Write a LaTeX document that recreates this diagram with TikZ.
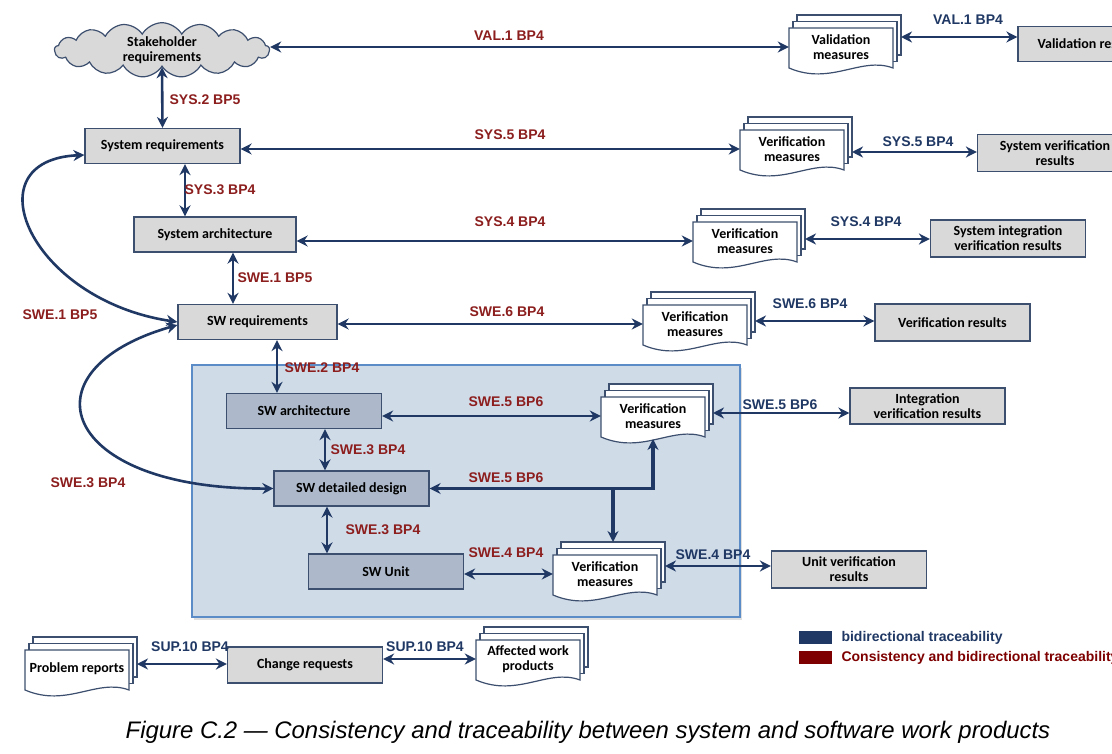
\documentclass[tikz,border=0pt]{standalone}
\usepackage{fontspec}
\setmainfont{Carlito}
\newfontfamily\lblfont{Liberation Sans}
\usetikzlibrary{arrows.meta,shapes.symbols,shadows}

\definecolor{navy}{HTML}{1F3864}
\definecolor{boxline}{HTML}{3D4F6E}
\definecolor{boxgray}{HTML}{D9D9D9}
\definecolor{swfill}{HTML}{ADB9CA}
\definecolor{panelfill}{HTML}{D0DBE8}
\definecolor{panelline}{HTML}{5B8CC8}
\definecolor{redlbl}{HTML}{8C1E1E}
\definecolor{legred}{HTML}{7F0000}

\tikzset{
  box/.style={draw=boxline, line width=1.2pt, fill=boxgray, minimum width=155pt,
    minimum height=35pt, align=center, inner sep=2pt,
    font=\fontsize{14}{15}\selectfont\bfseries},
  swbox/.style={box, fill=swfill},
  cloudnode/.style={cloud, cloud puffs=17, cloud puff arc=120, aspect=4.2,
    draw=boxline, line width=1.2pt, fill=boxgray, minimum width=215pt,
    minimum height=52pt, inner sep=0pt, align=center,
    font=\fontsize{14}{15}\selectfont\bfseries},
  docline/.style={draw=boxline, line width=1.2pt, fill=white},
  doctext/.style={minimum width=104pt, minimum height=38pt, inner sep=0pt,
    align=center, font=\fontsize{14}{15}\selectfont\bfseries},
  conn/.style={draw=navy, line width=2.6pt,
    {Stealth[length=11pt,width=11pt]}-{Stealth[length=11pt,width=11pt]}},
  redtxt/.style={text=redlbl, font=\lblfont\fontsize{14}{15}\selectfont\bfseries},
  bluetxt/.style={text=navy, font=\lblfont\fontsize{14}{15}\selectfont\bfseries},
}

% stack of documents: name, x, y, height of right connector, text
\newcommand{\docstack}[5]{%
  \foreach \k in {2,1} {
    \filldraw[docline] ({#2-52+4*\k},{#3-23-6.5*\k}) rectangle ({#2+52+4*\k},{#3+17-6.5*\k});
  }
  \filldraw[docline] ({#2-52},{#3-23}) -- ({#2+52},{#3-23}) -- ({#2+52},{#3+17})
    .. controls ({#2+20},{#3+5}) and ({#2-10},{#3+35}) .. ({#2-52},{#3+17}) -- cycle;
  \node[doctext] (#1) at ({#2},{#3-4}) {#5};
  \coordinate (#1r) at ({#2+60},{#3+#4});
  \coordinate (#1t) at ({#2+8},{#3-36});
  \coordinate (#1b) at ({#2},{#3+19});
}

\begin{document}
\begin{tikzpicture}[x=1pt,y=-1pt]
\useasboundingbox[fill=white] (0,0) rectangle (1112,754);

% software panel
\filldraw[fill=panelfill, draw=panelline, line width=1.2pt,
  drop shadow={shadow xshift=2pt, shadow yshift=-3pt, opacity=0.25}]
  (192,365) rectangle (740,617);

% work products
\node[cloudnode] (stake) at (162,50) {Stakeholder\\requirements};
\node[box] (sysreq) at (162.5,146) {System requirements};
\node[box, minimum width=162pt] (sysarch) at (215,234.5) {System architecture};
\node[box, minimum width=159pt] (swreq) at (257.5,322) {SW requirements};
\node[swbox] (swarch) at (304,411) {SW architecture};
\node[swbox] (dd) at (351.5,488.5) {SW detailed design};
\node[swbox] (unit) at (386,571.5) {SW Unit};

\docstack{valm}{841}{51}{-14}{Validation\\measures}
\docstack{vm1}{792}{153}{-1}{Verification\\measures}
\docstack{vm2}{745}{245}{-6}{Verification\\measures}
\docstack{vm3}{695}{328}{-7}{Verification\\measures}
\docstack{vm4}{653}{420}{-7}{Verification\\measures}
\docstack{vm5}{605}{578}{-12}{Verification\\measures}
\docstack{prob}{77}{673}{-9}{Problem reports}
\docstack{aff}{528}{663}{-6}{Affected work\\products}

\node[box, minimum width=140pt] (valres) at (1088,44) {Validation results};
\node[box, minimum height=37pt] (svr) at (1055,153) {System verification\\results};
\node[box, minimum height=37pt] (sivr) at (1008,238.5) {System integration\\verification results};
\node[box, minimum height=37pt] (vr) at (952.5,322.5) {Verification results};
\node[box, minimum height=36pt] (ivr) at (927.5,406) {Integration\\verification results};
\node[box, minimum height=37pt] (uvr) at (849,569.5) {Unit verification\\results};
\node[box, minimum height=36pt] (chg) at (305,665) {Change requests};

% vertical traces
\draw[conn] (stake.south) -- (sysreq.north);
\draw[conn] (sysreq.south -| 185,0) -- (sysarch.north -| 185,0);
\draw[conn] (sysarch.south -| 233,0) -- (swreq.north -| 233,0);
\draw[conn] (swreq.south -| 277,0) -- (swarch.north -| 277,0);
\draw[conn] (swarch.south -| 325,0) -- (dd.north -| 325,0);
\draw[conn] (dd.south -| 327,0) -- (unit.north -| 327,0);

% towards measures
\draw[conn] (stake.east |- valm.west) -- (valm.west);
\draw[conn] (sysreq.east |- vm1.west) -- (vm1.west);
\draw[conn] (sysarch.east |- vm2.west) -- (vm2.west);
\draw[conn] (swreq.east |- vm3.west) -- (vm3.west);
\draw[conn] (swarch.east |- vm4.west) -- (vm4.west);
\draw[conn, line width=3.2pt] (dd.east) -- (vm4b |- dd.east) -- (vm4b);
\draw[conn, line width=3.2pt, -{Stealth[length=11pt,width=11pt]}] (vm5t |- dd.east) -- (vm5t);
\draw[conn] (unit.east |- vm5.west) -- (vm5.west);

% towards results
\draw[conn] (valmr) -- (valmr -| valres.west);
\draw[conn] (vm1r) -- (vm1r -| svr.west);
\draw[conn] (vm2r) -- (vm2r -| sivr.west);
\draw[conn] (vm3r) -- (vm3r -| vr.west);
\draw[conn] (vm4r) -- (vm4r -| ivr.west);
\draw[conn] (vm5r) -- (vm5r -| uvr.west);
\draw[conn] (probr) -- (probr -| chg.west);
\draw[conn] (chg.east |- aff.west) -- (aff.west);

% left curves
\draw[conn] ([yshift=-9pt]sysreq.west) .. controls (-30,160) and (30,300) .. (swreq.west);
\draw[conn] ([yshift=-3pt]swreq.west) .. controls (20,370) and (60,490) .. (dd.west);

% labels
\node[redtxt] (lval) at (509,36) {VAL.1 BP4};
\node[redtxt] (lsys2) at (205,100) {SYS.2 BP5};
\node[redtxt] (lsys5) at (510,135) {SYS.5 BP4};
\node[redtxt] (lsys3) at (220,190) {SYS.3 BP4};
\node[redtxt] (lsys4) at (510,222) {SYS.4 BP4};
\node[redtxt] (lswe1) at (275,278) {SWE.1 BP5};
\node[redtxt] (lswe1c) at (60,315) {SWE.1 BP5};
\node[redtxt] (lswe6) at (507,312) {SWE.6 BP4};
\node[redtxt] (lswe2) at (322,368) {SWE.2 BP4};
\node[redtxt] (lswe5a) at (506,402) {SWE.5 BP6};
\node[redtxt] (lswe3a) at (368,450) {SWE.3 BP4};
\node[redtxt] (lswe5b) at (506,478) {SWE.5 BP6};
\node[redtxt] (lswe3b) at (383,530) {SWE.3 BP4};
\node[redtxt] (lswe4) at (506,553) {SWE.4 BP4};
\node[redtxt] (lswe3c) at (88,483) {SWE.3 BP4};

\node[bluetxt] (bval) at (968,20) {VAL.1 BP4};
\node[bluetxt] (bsys5) at (918,142) {SYS.5 BP4};
\node[bluetxt] (bsys4) at (866,222) {SYS.4 BP4};
\node[bluetxt] (bswe6) at (810,304) {SWE.6 BP4};
\node[bluetxt] (bswe5) at (780,405) {SWE.5 BP6};
\node[bluetxt] (bswe4) at (713,555) {SWE.4 BP4};
\node[bluetxt] (bsup1) at (190,647) {SUP.10 BP4};
\node[bluetxt] (bsup2) at (425,647) {SUP.10 BP4};

% legend
\fill[navy] (799,631) rectangle (832,644);
\fill[legred] (799,651) rectangle (832,664);
\node[bluetxt, anchor=west] (legb) at (838,637.5) {bidirectional traceability};
\node[redtxt, anchor=west, text=legred] (legr) at (838,657.5) {Consistency and bidirectional traceability};

% caption
\node[font=\lblfont\itshape\fontsize{23.9}{26}\selectfont] (cap) at (588,732)
  {Figure C.2 — Consistency and traceability between system and software work products};
\end{tikzpicture}
\end{document}
